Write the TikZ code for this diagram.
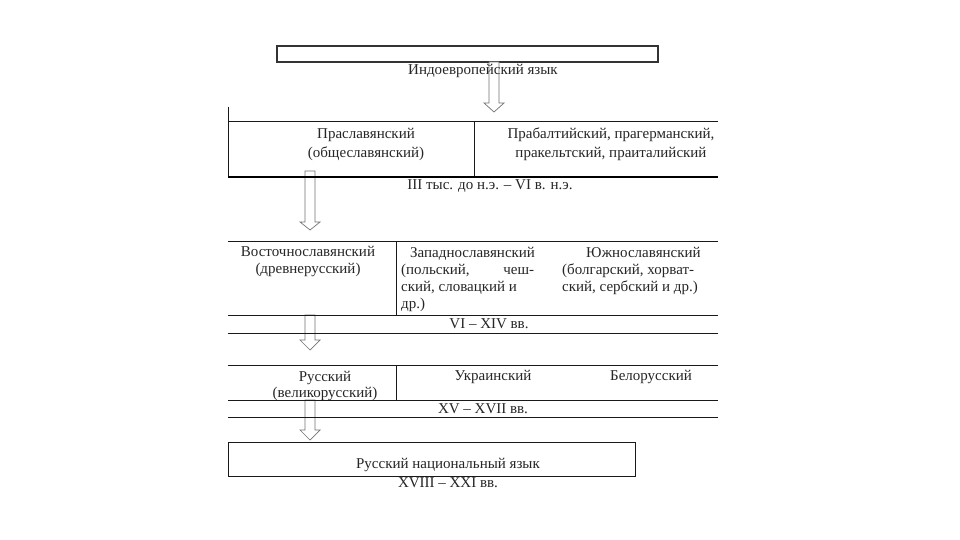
\documentclass[tikz,border=0pt]{standalone}
\usepackage{fontspec}
\setmainfont{Liberation Serif}
\newcommand\harrow[4]{% x, ytop, yneck, ytip
  \draw[hollow] (#1-5,#2) -- (#1-5,#3) -- (#1-10,#3) -- (#1,#4) -- (#1+10,#3) -- (#1+5,#3) -- (#1+5,#2) -- cycle;}
\begin{document}
\begin{tikzpicture}[x=1pt,y=-1pt,
  txt/.style={inner sep=0pt, font=\fontsize{15}{17}\selectfont, align=center, text=black!85},
  rule/.style={line width=0.9pt, black!90},
  hollow/.style={draw=black!55, line width=0.7pt, fill=white}]
\useasboundingbox[fill=white] (0,0) rectangle (960,540);

% top box
\node[draw=black!80, line width=1.4pt, minimum width=381pt, minimum height=16pt, inner sep=0pt] (ie) at (467.5,54) {};
\harrow{494}{62}{103}{112}
\node[txt] (ietxt) at (483,71) {Индоевропейский язык};

% block 1
\coordinate (b1l) at (228,121);
\coordinate (b1r) at (718,121);
\draw[rule] (b1l) -- (b1r);
\draw[rule] (228,107) -- (228,177);
\draw[rule] (474,121) -- (474,177);
\node[txt, font=\fontsize{15}{19}\selectfont] (psl) at (366,144) {Праславянский\\(общеславянский)};
\node[txt, font=\fontsize{15}{19}\selectfont] (pbal) at (611,144) {Прабалтийский, прагерманский,\\пракельтский, праиталийский};
\harrow{310}{171}{222}{230}
\draw[line width=1.6pt] (228,177) -- (718,177);
\node[txt] (d1) at (490,186) {III тыс. до н.э. – VI в. н.э.};

% block 2
\draw[rule] (228,241) -- (718,241);
\draw[rule] (396,241) -- (396,315);
\node[txt] (vost) at (308,261.5) {Восточнославянский\\(древнерусский)};
\node[txt, align=left, anchor=north west] (zap) at (401,247.5) {\hspace*{9pt}Западнославянский\\\makebox[133pt][s]{(польский, чеш-}\\ский, словацкий и\\др.)};
\node[txt, align=left, anchor=north west] (yuzh) at (562,247.5) {\hspace*{24pt}Южнославянский\\(болгарский, хорват-\\ский, сербский и др.)};
\harrow{310}{315}{340}{350}
\draw[rule] (228,315) -- (718,315);
\draw[rule] (228,333) -- (718,333);
\node[txt] (d2) at (489,324) {VI – XIV вв.};

% block 3
\draw[rule] (228,365) -- (718,365);
\draw[rule] (396,365) -- (396,400);
\node[txt, font=\fontsize{15}{16}\selectfont] (rus) at (325,385.5) {Русский\\(великорусский)};
\node[txt] (ukr) at (493,377) {Украинский};
\node[txt] (bel) at (651,377) {Белорусский};
\harrow{310}{400}{430}{440}
\draw[rule] (228,400) -- (718,400);
\draw[rule] (228,417) -- (718,417);
\node[txt] (d3) at (483,409) {XV – XVII вв.};

% bottom box
\draw[rule] (228,442) rectangle (635,476);
\node[txt] (rnl) at (448,465) {Русский национальный язык};
\node[txt] (d4) at (448,483) {XVIII – XXI вв.};
\end{tikzpicture}
\end{document}
